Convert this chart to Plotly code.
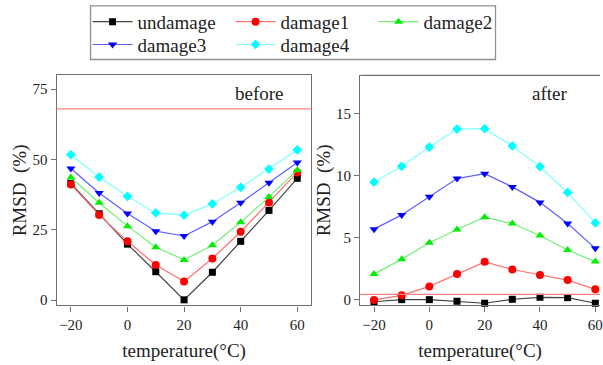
import plotly.graph_objects as go

temps = [-20, -10, 0, 10, 20, 30, 40, 50, 60]
names = ["undamage", "damage1", "damage2", "damage3", "damage4"]

before_undamage = [41.5, 30.7, 19.9, 10.1, 0.1, 9.9, 20.9, 31.9, 43.3]
before_damage1 = [41.1, 30.3, 20.9, 12.5, 6.6, 14.8, 24.3, 34.7, 45.4]
before_damage2 = [43.6, 34.6, 26.3, 18.8, 14.3, 19.5, 27.7, 36.7, 46.2]
before_damage3 = [46.8, 38.1, 30.8, 24.5, 22.8, 27.9, 34.6, 41.7, 48.9]
before_damage4 = [51.7, 43.7, 36.9, 31.0, 30.2, 34.2, 40.1, 46.6, 53.4]

after_undamage = [-0.2, -0.03, -0.03, -0.16, -0.32, 0.0, 0.16, 0.13, -0.32]
after_damage1 = [-0.05, 0.32, 1.04, 2.05, 3.02, 2.40, 1.95, 1.55, 0.80]
after_damage2 = [2.03, 3.23, 4.56, 5.63, 6.62, 6.11, 5.15, 3.98, 3.04]
after_damage3 = [5.66, 6.81, 8.27, 9.74, 10.14, 9.07, 7.82, 6.11, 4.11]
after_damage4 = [9.45, 10.73, 12.28, 13.74, 13.77, 12.38, 10.70, 8.62, 6.17]

threshold_before = 68
threshold_after = 0.4

before = [before_undamage, before_damage1, before_damage2, before_damage3, before_damage4]
after = [after_undamage, after_damage1, after_damage2, after_damage3, after_damage4]

marker_colors = ["#000000", "#ff0000", "#00ee00", "#0000ff", "#00ffff"]
line_colors = ["#444444", "#ff7070", "#70f070", "#6060ff", "#80ffff"]
symbols = ["square", "circle", "triangle-up", "triangle-down", "diamond"]
sizes = [7, 8, 8, 8, 7.5]
legend_of = ["legend", "legend", "legend", "legend2", "legend2"]

FONT = "Liberation Serif"
W, H = 603, 365
TXT = "#222222"

fig = go.Figure()
for i, n in enumerate(names):
    fig.add_trace(go.Scatter(
        x=temps, y=before[i], name=n, mode="lines+markers",
        line=dict(color=line_colors[i], width=1.2),
        marker=dict(symbol=symbols[i], color=marker_colors[i], size=sizes[i], line=dict(width=0)),
        xaxis="x", yaxis="y", legend=legend_of[i], cliponaxis=False))
for i, n in enumerate(names):
    fig.add_trace(go.Scatter(
        x=temps, y=after[i], name=n, mode="lines+markers", showlegend=False,
        line=dict(color=line_colors[i], width=1.2),
        marker=dict(symbol=symbols[i], color=marker_colors[i], size=sizes[i], line=dict(width=0)),
        xaxis="x2", yaxis="y2", cliponaxis=False))

ydom = [1 - 308 / H, 1 - 76 / H]
axcol = "#707070"
tickfont = dict(family=FONT, size=15, color=TXT)
titlefont = dict(family=FONT, size=19, color=TXT)

common_x = dict(showgrid=False, zeroline=False, showline=True, linecolor=axcol, linewidth=1.3,
                ticks="outside", ticklen=5, tickcolor=axcol, tickfont=tickfont,
                tickvals=[-20, 0, 20, 40, 60], ticklabeloverflow="allow",
                title=dict(text="temperature(°C)", font=titlefont, standoff=12))
common_y = dict(showgrid=False, zeroline=False, showline=True, linecolor=axcol, linewidth=1.3,
                ticks="outside", ticklen=5, tickcolor=axcol, tickfont=tickfont,
                title=dict(text="RMSD\u00a0\u00a0(%)", font=titlefont, standoff=0))

legend_common = dict(orientation="h", xanchor="left", yanchor="middle",
                     borderwidth=0, bgcolor="rgba(0,0,0,0)",
                     font=dict(family=FONT, size=19, color=TXT),
                     entrywidth=88, entrywidthmode="pixels", itemwidth=40,
                     tracegroupgap=0)

fig.update_layout(
    width=W, height=H, margin=dict(l=0, r=0, t=0, b=0),
    paper_bgcolor="white", plot_bgcolor="white",
    font=dict(family=FONT, color=TXT),
    xaxis=dict(common_x, domain=[57 / W, 313 / W], range=[-25, 65], anchor="y", mirror=True),
    yaxis=dict(common_y, domain=ydom, range=[-1.9, 79.9], anchor="x", mirror=True,
               tickvals=[0, 25, 50, 75]),
    xaxis2=dict(common_x, domain=[362 / W, 1.0], range=[-25, 61.7], anchor="y2"),
    yaxis2=dict(common_y, domain=ydom, range=[-0.5, 18.07], anchor="x2",
                tickvals=[0, 5, 10, 15]),
    showlegend=True,
    legend=dict(legend_common, x=88 / W, y=1 - 22 / H),
    legend2=dict(legend_common, x=88 / W, y=1 - 45 / H),
    shapes=[
        dict(type="rect", xref="paper", yref="paper", x0=91 / W, x1=498 / W,
             y0=1 - 60 / H, y1=1 - 6 / H, line=dict(color="#909090", width=1.3), layer="above"),
        dict(type="line", xref="x domain", yref="y", x0=0, x1=1, y0=threshold_before, y1=threshold_before,
             line=dict(color="#ff8080", width=1.3)),
        dict(type="line", xref="x2 domain", yref="y2", x0=0, x1=1, y0=threshold_after, y1=threshold_after,
             line=dict(color="#ff8080", width=1.3)),
        dict(type="line", xref="x2 domain", yref="y2 domain", x0=0, x1=1, y0=1, y1=1,
             line=dict(color=axcol, width=1.3)),
    ],
    annotations=[
        dict(text="before", xref="x domain", yref="y domain", x=0.90, y=0.975, xanchor="right", yanchor="top",
             showarrow=False, font=dict(family=FONT, size=19, color=TXT)),
        dict(text="after", xref="x2 domain", yref="y2 domain", x=0.79, y=0.975, xanchor="center", yanchor="top",
             showarrow=False, font=dict(family=FONT, size=19, color=TXT)),
    ],
)

fig.write_html("out.html", config={"displayModeBar": False},
               post_script="document.body.style.margin='0px';")
